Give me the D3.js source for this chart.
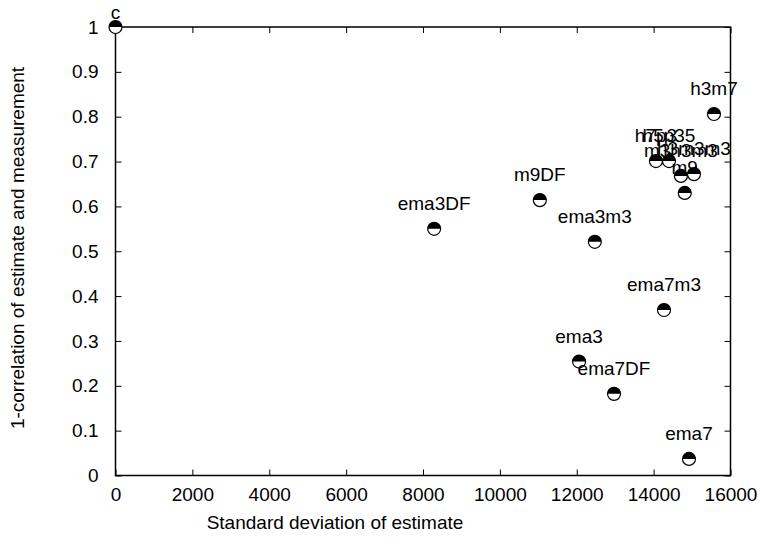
<!DOCTYPE html>
<html>
<head>
<meta charset="utf-8">
<script src="https://cdn.jsdelivr.net/npm/d3@7"></script>
<style>
  body { margin: 0; background: #fff; }
  svg text { font-family: "Liberation Sans", Arial, sans-serif; fill: #000; }
</style>
</head>
<body>
<div id="chart"></div>
<script>
// values
const names = ["c", "ema3DF", "m9DF", "ema3m3", "ema7m3", "ema3", "ema7DF", "ema7",
               "h3m7", "h7p3", "h5p35", "m3h3m3", "h3m3m3", "m9"];
const stdDev = [0, 8290, 11040, 12470, 14270, 12060, 12970, 14920,
                15570, 14060, 14400, 14710, 15050, 14810];
const oneMinusCorr = [1.0, 0.55, 0.614, 0.521, 0.369, 0.254, 0.182, 0.037,
                      0.806, 0.701, 0.701, 0.668, 0.672, 0.630];
const xTicks = [0, 2000, 4000, 6000, 8000, 10000, 12000, 14000, 16000];
const yTicks = [0, 0.1, 0.2, 0.3, 0.4, 0.5, 0.6, 0.7, 0.8, 0.9, 1];

const width = 760, height = 544;
const fontSize = 19;

const svg = d3.select("#chart").append("svg")
    .attr("width", width)
    .attr("height", height);

const x = d3.scaleLinear().domain([0, 16000]).range([115.5, 730.5]);
const y = d3.scaleLinear().domain([0, 1]).range([475.5, 27]);

const axisStyle = g => {
    g.select(".domain").remove();
    g.selectAll(".tick line").attr("stroke", "#000").attr("stroke-width", 1);
    g.selectAll("text").style("font-size", fontSize + "px");
};

svg.append("g")
    .attr("transform", `translate(0,${y(0)})`)
    .call(d3.axisBottom(x).tickValues(xTicks).tickSize(-6).tickPadding(12).tickFormat(d => String(d)))
    .call(axisStyle);

svg.append("g")
    .attr("transform", `translate(0,${y(1)})`)
    .call(d3.axisTop(x).tickValues(xTicks).tickSize(-6).tickFormat(""))
    .call(axisStyle);

svg.append("g")
    .attr("transform", `translate(${x(0)},0)`)
    .call(d3.axisLeft(y).tickValues(yTicks).tickSize(-6).tickPadding(17).tickFormat(d => String(d)))
    .call(axisStyle);

svg.append("g")
    .attr("transform", `translate(${x(16000)},0)`)
    .call(d3.axisRight(y).tickValues(yTicks).tickSize(-6).tickFormat(""))
    .call(axisStyle);

// border
svg.append("rect")
    .attr("x", x(0)).attr("y", y(1))
    .attr("width", x(16000) - x(0))
    .attr("height", y(0) - y(1))
    .attr("fill", "none")
    .attr("stroke", "#000")
    .attr("stroke-width", 1.5);

// axis titles
svg.append("text")
    .attr("x", 335).attr("y", 529)
    .attr("text-anchor", "middle")
    .style("font-size", fontSize + "px")
    .text("Standard deviation of estimate");

svg.append("text")
    .attr("transform", "translate(24,248) rotate(-90)")
    .attr("text-anchor", "middle")
    .style("font-size", fontSize + "px")
    .text("1-correlation of estimate and measurement");

// points: circle with black upper half
const r = 6.5;
const data = names.map((n, i) => ({name: n, sd: stdDev[i], v: oneMinusCorr[i]}));
const halfArc = d3.arc()({innerRadius: 0, outerRadius: r, startAngle: -Math.PI / 2, endAngle: Math.PI / 2});

const pts = svg.append("g").selectAll("g")
    .data(data).join("g")
    .attr("transform", d => `translate(${x(d.sd)},${y(d.v)})`);
pts.append("circle").attr("r", r).attr("fill", "#fff");
pts.append("path").attr("d", halfArc).attr("fill", "#000");
pts.append("circle").attr("r", r).attr("fill", "none").attr("stroke", "#000").attr("stroke-width", 1.2);

svg.append("g").selectAll("text")
    .data(data).join("text")
    .attr("x", d => x(d.sd))
    .attr("y", d => Math.max(y(d.v) - 19, 19))
    .attr("text-anchor", "middle")
    .style("font-size", fontSize + "px")
    .text(d => d.name);
</script>
</body>
</html>
